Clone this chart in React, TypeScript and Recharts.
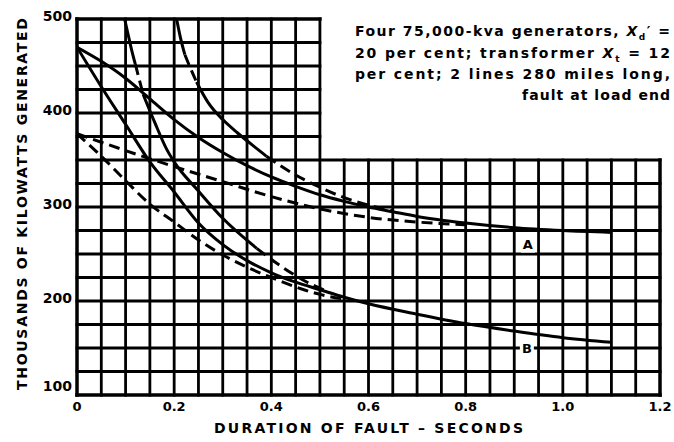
import { LineChart, Line, XAxis, YAxis, ReferenceLine, ReferenceDot, ReferenceArea } from "recharts";

type Pt = [number, number];

// axes
const xTicks = [0, 0.2, 0.4, 0.6, 0.8, 1.0, 1.2];
const xTickLabels = ["0", "0.2", "0.4", "0.6", "0.8", "1.0", "1.2"];
const yTicks = [100, 200, 300, 400, 500];
const gridX = Array.from({ length: 25 }, (_, i) => +(i * 0.05).toFixed(2));
const gridY = Array.from({ length: 17 }, (_, i) => 100 + i * 25);

// curves (seconds, thousands of kW)
const curveASolid: Pt[] = [
  [0, 470], [0.05, 455], [0.1, 437], [0.15, 415], [0.2, 393], [0.25, 374], [0.3, 358], [0.35, 344],
  [0.4, 332], [0.45, 322], [0.5, 313], [0.55, 306], [0.6, 300], [0.65, 295], [0.7, 290], [0.8, 283],
  [0.9, 278], [1.0, 275], [1.1, 273],
];
const curveADash: Pt[] = [
  [0, 378], [0.1, 360], [0.2, 343], [0.3, 327], [0.4, 311], [0.5, 298], [0.6, 289], [0.7, 284], [0.8, 281],
];
const curveBSolid: Pt[] = [
  [0, 470], [0.05, 428], [0.1, 388], [0.15, 348], [0.2, 316], [0.25, 283], [0.3, 260], [0.35, 243],
  [0.4, 230], [0.45, 220], [0.5, 212], [0.55, 204], [0.6, 197], [0.7, 186], [0.8, 176], [0.9, 168],
  [1.0, 161], [1.1, 156],
];
const curveBDash: Pt[] = [
  [0, 378], [0.05, 354], [0.1, 328], [0.15, 303], [0.2, 284], [0.25, 265], [0.3, 249], [0.35, 236],
  [0.4, 225], [0.45, 215], [0.5, 207], [0.55, 202],
];
// steep curve entering at 0.1 s
const curveCSolidTop: Pt[] = [[0.098, 500], [0.105, 484], [0.112, 468], [0.12, 452]];
const curveCDashTop: Pt[] = [[0.12, 452], [0.128, 436], [0.136, 420]];
const curveCSolid: Pt[] = [
  [0.136, 420], [0.16, 390], [0.185, 361], [0.2, 348], [0.25, 317], [0.3, 288], [0.37, 256],
];
const curveCDash: Pt[] = [[0.37, 256], [0.42, 237], [0.47, 221], [0.52, 209]];
// steep curve entering at 0.2 s
const curveDSolidTop: Pt[] = [[0.205, 500], [0.213, 480], [0.222, 462]];
const curveDDashTop: Pt[] = [[0.222, 462], [0.234, 447], [0.246, 433]];
const curveDSolid: Pt[] = [[0.246, 433], [0.27, 411], [0.3, 393], [0.33, 379], [0.363, 365], [0.39, 354]];
const curveDDash: Pt[] = [[0.39, 354], [0.45, 334], [0.5, 321], [0.55, 310], [0.6, 302], [0.65, 296]];

const solidCurves = [curveASolid, curveBSolid, curveCSolidTop, curveCSolid, curveDSolidTop, curveDSolid];
const dashedCurves = [curveADash, curveBDash, curveCDashTop, curveCDash, curveDDashTop, curveDDash];

const FONT = "'DejaVu Sans', sans-serif";

const rows = (pts: Pt[]) => pts.map(([x, y]) => ({ x, y }));

function YTick({ x, y, payload }: any) {
  return (
    <text x={x} y={y} dy={payload.value === 100 ? -9 : -3} textAnchor="end" dominantBaseline="central"
      fontFamily={FONT} fontWeight={700} fontSize={14} fill="#000">
      {payload.value}
    </text>
  );
}

function NoteLabel({ viewBox }: any) {
  const left = viewBox.x + 35;
  const right = viewBox.x + viewBox.width + 10;
  const top = viewBox.y;
  const common = { fontFamily: FONT, fontWeight: 700, fontSize: 14, fill: "#000" };
  return (
    <g>
      <text x={left} y={top + 17} textLength={right - left} lengthAdjust="spacing" {...common}>
        Four 75,000-kva generators, <tspan fontStyle="italic">X</tspan>
        <tspan fontSize={9} dy={4}>d</tspan>
        <tspan dy={-4}>′ =</tspan>
      </text>
      <text x={left} y={top + 39} textLength={right - left} lengthAdjust="spacing" {...common}>
        20 per cent;  transformer <tspan fontStyle="italic">X</tspan>
        <tspan fontSize={9} dy={4}>t</tspan>
        <tspan dy={-4}> = 12</tspan>
      </text>
      <text x={left} y={top + 60} textLength={right - left} lengthAdjust="spacing" {...common}>
        per cent;  2 lines 280 miles long,
      </text>
      <text x={right - 148} y={top + 81} textLength={148} lengthAdjust="spacing" {...common}>
        fault at load end
      </text>
    </g>
  );
}

function XTitle({ viewBox }: any) {
  return (
    <text x={viewBox.x + viewBox.width / 2} y={viewBox.y + 38} textAnchor="middle"
      fontFamily={FONT} fontWeight={700} fontSize={14} textLength={309} fill="#000">
      DURATION OF FAULT – SECONDS
    </text>
  );
}

function YTitle({ viewBox }: any) {
  const cx = 22;
  const cy = viewBox.y + viewBox.height / 2 - 3;
  return (
    <text x={cx} y={cy} transform={`rotate(-90 ${cx} ${cy})`} textAnchor="middle" dominantBaseline="central"
      fontFamily={FONT} fontWeight={700} fontSize={14} textLength={372} fill="#000">
      THOUSANDS OF KILOWATTS GENERATED
    </text>
  );
}

function CurveLabel({ cx, cy, text }: any) {
  return (
    <g>
      <rect x={cx - 7} y={cy - 8} width={14} height={16} fill="#fff" />
      <text x={cx} y={cy} dominantBaseline="central" textAnchor="middle"
        fontFamily={FONT} fontWeight={700} fontSize={13} fill="#000">
        {text}
      </text>
    </g>
  );
}

export default function App() {
  return (
    <div style={{ position: "absolute", left: 0, top: 0, background: "#fff" }}>
      <LineChart width={674} height={442} margin={{ top: 19, right: 14, bottom: 0, left: 0 }}>
        <XAxis dataKey="x" type="number" domain={[0, 1.2]} ticks={xTicks} interval={0} allowDataOverflow
          tickFormatter={(v) => xTickLabels[xTicks.indexOf(v)] ?? String(v)}
          axisLine={false} tickLine={false} tickSize={0} tickMargin={7} height={47}
          tick={{ fill: "#000", fontSize: 13, fontFamily: FONT, fontWeight: 700 }}
          label={(p: any) => <XTitle {...p} />} />
        <YAxis type="number" domain={[100, 500]} ticks={yTicks} interval={0} allowDataOverflow width={77}
          axisLine={false} tickLine={false} tickSize={0} tickMargin={5} tick={<YTick />}
          label={(p: any) => <YTitle {...p} />} />

        {gridX.map((x) => (
          <ReferenceLine key={`gx${x}`} ifOverflow="visible" stroke="#000" strokeLinecap="square"
            strokeWidth={x === 0 || x === 1.2 ? 3.5 : 2.8}
            segment={[{ x, y: 100 }, { x, y: x <= 0.5 ? 500 : 350 }]} />
        ))}
        {gridY.map((y) => (
          <ReferenceLine key={`gy${y}`} ifOverflow="visible" stroke="#000" strokeLinecap="square"
            strokeWidth={y === 100 || y === 500 ? 3.5 : 2.8}
            segment={[{ x: 0, y }, { x: y <= 350 ? 1.2 : 0.5, y }]} />
        ))}

        <ReferenceArea x1={0.5} x2={1.2} y1={350} y2={500} fillOpacity={0} strokeOpacity={0}
          label={(p: any) => <NoteLabel {...p} />} />

        {solidCurves.map((pts, i) => (
          <Line key={`s${i}`} data={rows(pts)} dataKey="y" type="monotone" stroke="#000" strokeWidth={3}
            dot={false} activeDot={false} isAnimationActive={false} />
        ))}
        {dashedCurves.map((pts, i) => (
          <Line key={`d${i}`} data={rows(pts)} dataKey="y" type="monotone" stroke="#000" strokeWidth={3}
            strokeDasharray="11 6" dot={false} activeDot={false} isAnimationActive={false} />
        ))}

        <ReferenceDot x={0.928} y={260} r={0} ifOverflow="visible"
          shape={(p: any) => <CurveLabel {...p} text="A" />} />
        <ReferenceDot x={0.926} y={150} r={0} ifOverflow="visible"
          shape={(p: any) => <CurveLabel {...p} text="B" />} />
      </LineChart>
    </div>
  );
}
